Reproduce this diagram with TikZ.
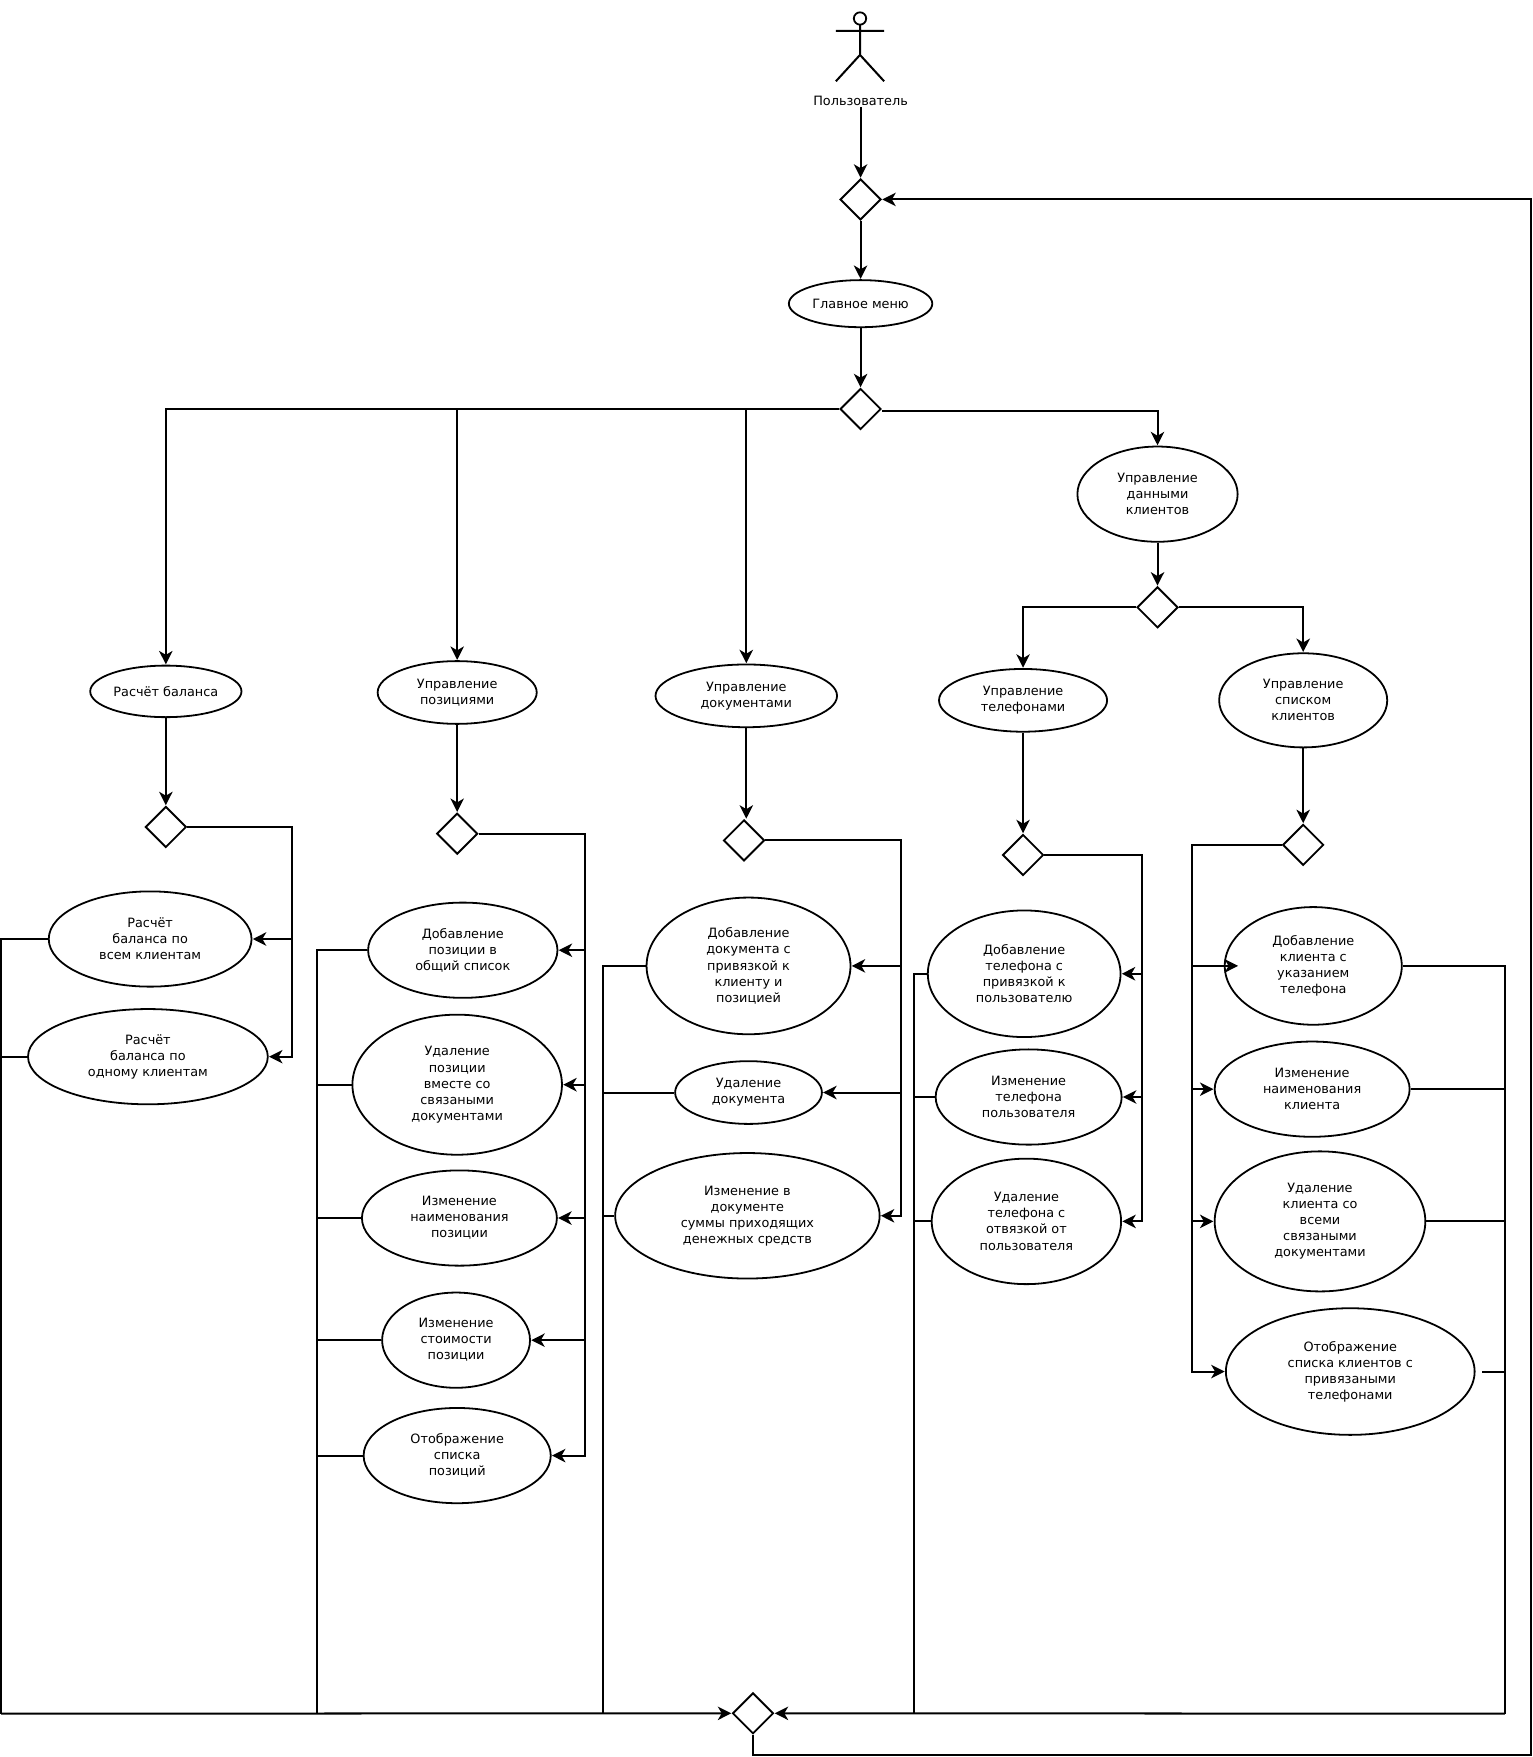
\documentclass[tikz,border=0pt]{standalone}
\usepackage{fontspec}
\setmainfont{DejaVu Sans}
\usetikzlibrary{shapes.geometric,arrows.meta}
\tikzset{
  usecase/.style={ellipse,draw,line width=1.6pt,fill=white,inner sep=0pt,align=center,
    font=\fontsize{11.45}{14.3}\selectfont},
  choice/.style={diamond,draw,line width=1.7pt,fill=white,inner sep=0pt,minimum width=36.5pt,minimum height=36.5pt},
  wire/.style={line width=1.8pt,line join=miter},
  flow/.style={wire,-{Stealth[length=12pt,width=12pt,inset=3.5pt]},shorten >=0.3pt},
}
\newcommand{\uc}[6]{\node[usecase,minimum width=#4pt,minimum height=#5pt] (#1) at (#2,#3) {#6};}
\begin{document}
\begin{tikzpicture}[x=1pt,y=-1pt]
\useasboundingbox (0,0) rectangle (1368,1568);

% Actor figure
\draw[wire,line width=1.6pt] (767.5,16.5) circle (5.5);
\draw[wire] (767.5,22) -- (767.5,49) (746,27.5) -- (789,27.5)
  (746,72.5) -- (767.5,49) -- (789,72.5);
\node[font=\fontsize{11.45}{14.3}\selectfont,inner sep=0pt] (user) at (768,90) {Пользователь};

% Decision points
\foreach \n/\x/\y in {dtop/768/178,dmain/768/365,ddata/1033/542,dbal/148/738,dpos/408/744,
  ddoc/664/750,dtel/913/763,dcli/1163/754,dend/672/1529}
  \node[choice] (\n) at (\x,\y) {};

% Upper use cases
\uc{menu}{768}{271}{128}{42}{Главное меню}
\uc{data}{1033}{441}{143}{85}{Управление\\данными\\клиентов}
\uc{bal}{148}{617}{135}{46}{Расчёт баланса}
\uc{pos}{408}{618}{142}{56}{Управление\\позициями}
\uc{doc}{666}{621}{162}{56}{Управление\\документами}
\uc{tel}{913}{625}{150}{56}{Управление\\телефонами}
\uc{cli}{1163}{625}{150}{84}{Управление\\списком\\клиентов}

% Balance column
\uc{balA}{134}{838}{181}{85}{Расчёт\\баланса по\\всем клиентам}
\uc{balB}{132}{943}{214}{85}{Расчёт\\баланса по\\одному клиентам}

% Positions column
\uc{posA}{413}{848}{169}{85}{Добавление\\позиции в\\общий список}
\uc{posB}{408}{968}{187}{125}{Удаление\\позиции\\вместе со\\связаными\\документами}
\uc{posC}{410}{1087}{174}{85}{Изменение\\наименования\\позиции}
\uc{posD}{407}{1196}{132}{85}{Изменение\\стоимости\\позиции}
\uc{posE}{408}{1299}{167}{85}{Отображение\\списка\\позиций}

% Documents column
\uc{docA}{668}{862}{182}{122}{Добавление\\документа с\\привязкой к\\клиенту и\\позицией}
\uc{docB}{668}{975}{131}{56}{Удаление\\документа}
\uc{docC}{667}{1085}{236}{112}{Изменение в\\документе\\суммы приходящих\\денежных средств}

% Phones column
\uc{telA}{914}{869}{172}{113}{Добавление\\телефона с\\привязкой к\\пользователю}
\uc{telB}{918}{979}{166}{85}{Изменение\\телефона\\пользователя}
\uc{telC}{916}{1090}{169}{112}{Удаление\\телефона с\\отвязкой от\\пользователя}

% Clients column
\uc{cliA}{1172}{862}{158}{105}{Добавление\\клиента с\\указанием\\телефона}
\uc{cliB}{1171}{972}{174}{85}{Изменение\\наименования\\клиента}
\uc{cliC}{1178}{1090}{188}{125}{Удаление\\клиента со\\всеми\\связаными\\документами}
\uc{cliD}{1205}{1224}{222}{113}{Отображение\\списка клиентов с\\привязаными\\телефонами}

% Routing columns
\coordinate (rBal) at (261,738);
\coordinate (rPos) at (522,744);
\coordinate (rDoc) at (804,750);
\coordinate (rTel) at (1019,763);
\coordinate (rCli) at (1064,754);
\coordinate (bBal) at (1,1529.3);
\coordinate (bPos) at (283,1529.3);
\coordinate (bDoc) at (538,1529.3);
\coordinate (bTel) at (816,1529.3);
\coordinate (bCli) at (1343,1529.3);
\coordinate (gapD) at (1323,1224);
\coordinate (loopA) at (672,1566);
\coordinate (loopB) at (1366.5,1566);

% Top spine
\draw[flow] (user.south) ++(0,1) -- (dtop.north);
\draw[flow] (dtop.south) -- (menu.north);
\draw[flow] (menu.south) -- (dmain.north);

% Branches from the main menu choice
\draw[flow] (dmain.west) -| (bal.north);
\draw[flow] (pos.north|-dmain.west) -- (pos.north);
\draw[flow] (doc.north|-dmain.west) -- (doc.north);
\draw[flow] ([yshift=-1.5pt]dmain.east) -| (data.north);
\draw[flow] (data.south) -- (ddata.north);
\draw[flow] (ddata.west) -| (tel.north);
\draw[flow] (ddata.east) -| (cli.north);

% Into the column decisions
\draw[flow] (bal.south) -- (dbal.north);
\draw[flow] (pos.south) -- (dpos.north);
\draw[flow] (doc.south) -- (doc.south|-ddoc.north);
\draw[flow] (tel.south) -- (dtel.north);
\draw[flow] (cli.south) -- (dcli.north);

% Balance column wiring
\draw[flow] (dbal.east) -| (rBal|-balB.east) -- (balB.east);
\draw[flow] (rBal|-balA.east) -- (balA.east);
\draw[wire] (balA.west) -- (bBal|-balA.west) -- (bBal);
\draw[wire] (balB.west) -- (bBal|-balB.west);

% Positions column wiring
\draw[flow] (dpos.east) -| (rPos|-posE.east) -- (posE.east);
\foreach \n in {posA,posB,posC,posD}
  \draw[flow] (rPos|-\n.east) -- (\n.east);
\draw[wire] (posA.west) -- (bPos|-posA.west) -- (bPos);
\foreach \n in {posB,posC,posD,posE}
  \draw[wire] (\n.west) -- (bPos|-\n.west);

% Documents column wiring
\draw[flow] (ddoc.east) -| (rDoc|-docC.east) -- (docC.east);
\foreach \n in {docA,docB}
  \draw[flow] (rDoc|-\n.east) -- (\n.east);
\draw[wire] (docA.west) -- (bDoc|-docA.west) -- (bDoc);
\foreach \n in {docB,docC}
  \draw[wire] (\n.west) -- (bDoc|-\n.west);

% Phones column wiring
\draw[flow] (dtel.east) -| (rTel|-telC.east) -- (telC.east);
\foreach \n in {telA,telB}
  \draw[flow] (rTel|-\n.east) -- (\n.east);
\draw[wire] (telA.west) -- (bTel|-telA.west) -- (bTel);
\foreach \n in {telB,telC}
  \draw[wire] (\n.west) -- (bTel|-\n.west);

% Clients column wiring
\draw[flow] (dcli.west) -| (rCli|-cliD.west) -- (cliD.west);
\draw[flow] (rCli|-cliA.west) -- ([xshift=13pt]cliA.west);
\foreach \n in {cliB,cliC}
  \draw[flow] (rCli|-\n.west) -- (\n.west);
\draw[wire] (cliA.east) -- (bCli|-cliA.east) -- (bCli);
\foreach \n in {cliB,cliC}
  \draw[wire] (\n.east) -- (bCli|-\n.east);
\draw[wire] (gapD) -- (bCli|-gapD);

% Collecting bus and the return loop
\draw[flow] (bBal) -- (dend.west);
\draw[flow] (bCli) -- (dend.east);
\draw[flow] (dend.south) -- (loopA) -- (loopB) -- (loopB|-dtop.east) -- (dtop.east);
\end{tikzpicture}
\end{document}
